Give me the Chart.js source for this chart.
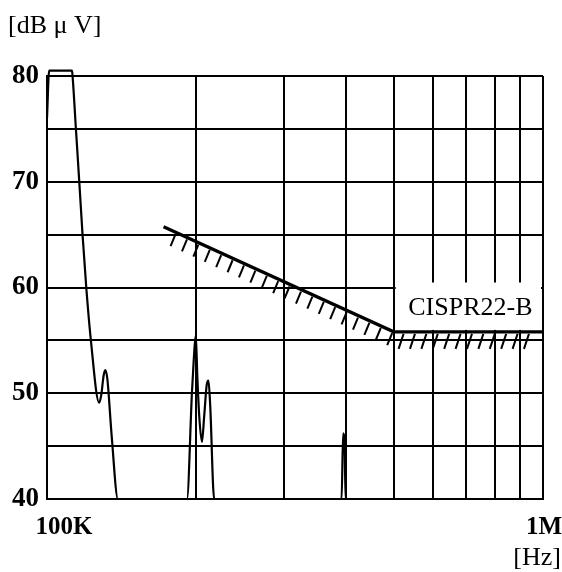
<!DOCTYPE html>
<html>
<head>
<meta charset="utf-8">
<script src="https://cdn.jsdelivr.net/npm/chart.js@4/dist/chart.umd.min.js"></script>
<style>
  html, body { margin: 0; padding: 0; background: #fff; }
  #wrap { width: 562px; height: 572px; }
</style>
</head>
<body>
<div id="wrap"><canvas id="emi"></canvas></div>
<script>
// measured conducted noise (frequency in kHz, level in dBuV)
const traceFreq = [100, 101, 102.5, 112.3, 112.6, 114.4, 116.2, 117.9, 120.0, 122.6, 127.4, 128.6, 130.1, 131.0, 132.3, 135, 139.0,
  191.5, 196.0, 197.6, 199.5, 200.9, 202.7, 205.3, 207.5, 209.9, 211.6, 213.3, 217.3,
  392.6, 395.4, 398.2, 400.0, 1000];
const traceLevel = [76, 80.5, 80.5, 80.5, 80, 74.9, 69.9, 65.1, 60, 55, 49.1, 49.8, 51.7, 52.2, 51.4, 46, 40,
  40, 50.1, 53.1, 55.5, 51.7, 47.9, 45.4, 47.9, 50.8, 51.2, 48.9, 40,
  40, 46.2, 45, 40, 40];

// CISPR22 class B limit
const limitFreq = [171.8, 500, 1000];
const limitLevel = [65.75, 55.8, 55.8];
const limitName = 'CISPR22-B';

// axis grid
const freqTicks = [100, 200, 300, 400, 500, 600, 700, 800, 900, 1000];
const freqLabels = { 100: '100K', 1000: '1M' };
const levelMin = 40, levelMax = 80, levelStep = 5;

const serif = '"Liberation Serif", "DejaVu Serif", serif';

const toXY = (fs, ls) => fs.map((f, i) => ({ x: f, y: ls[i] }));

// white box holding the limit name, drawn over the grid
const labelBox = {
  id: 'labelBox',
  beforeDatasetsDraw(chart) {
    const { ctx, chartArea, scales } = chart;
    const x0 = scales.x.getPixelForValue(limitFreq[1]) + 2;
    const x1 = chartArea.right - 2;
    const y0 = scales.y.getPixelForValue(60) - 5;
    const y1 = scales.y.getPixelForValue(limitLevel[1]) - 2;
    ctx.save();
    ctx.fillStyle = '#fff';
    ctx.fillRect(x0, y0, x1 - x0, y1 - y0);
    ctx.fillStyle = '#000';
    ctx.font = '26px ' + serif;
    ctx.textAlign = 'center';
    ctx.textBaseline = 'middle';
    ctx.fillText(limitName, (x0 + x1) / 2 + 2, (y0 + y1) / 2 + 2);
    ctx.restore();
  }
};

// hatching under the limit line
const hatch = {
  id: 'hatch',
  afterDatasetsDraw(chart) {
    const { ctx, chartArea } = chart;
    const pts = chart.getDatasetMeta(1).data;
    ctx.save();
    ctx.strokeStyle = '#000';
    ctx.lineWidth = 2;
    for (let x = pts[0].x + 12; x < chartArea.right - 6; x += 11.4) {
      let k = 0;
      while (k < pts.length - 2 && x > pts[k + 1].x) k++;
      const a = pts[k], b = pts[k + 1];
      const y = a.y + (b.y - a.y) * (x - a.x) / (b.x - a.x);
      const len = k === 0 ? 12 : 15;
      ctx.beginPath();
      ctx.moveTo(x, y + 2);
      ctx.lineTo(x - 5, y + 2 + len);
      ctx.stroke();
    }
    ctx.restore();
  }
};

// unit captions and the two frequency labels
const captions = {
  id: 'captions',
  afterDraw(chart) {
    const { ctx, scales } = chart;
    ctx.save();
    ctx.fillStyle = '#000';
    ctx.textBaseline = 'middle';
    ctx.font = '26px ' + serif;
    ctx.textAlign = 'left';
    ctx.fillText('[dB μ V]', 8, 26);
    ctx.textAlign = 'right';
    ctx.fillText('[Hz]', 561, 558);
    ctx.font = 'bold 25px ' + serif;
    ctx.textAlign = 'center';
    ctx.fillText(freqLabels[100], scales.x.getPixelForValue(100) + 17, 528);
    ctx.fillText(freqLabels[1000], scales.x.getPixelForValue(1000) + 1, 528);
    ctx.restore();
  }
};

new Chart(document.getElementById('emi'), {
  type: 'line',
  data: {
    datasets: [{
      data: toXY(traceFreq, traceLevel),
      borderColor: '#000',
      borderWidth: 2.2,
      pointRadius: 0,
      cubicInterpolationMode: 'monotone',
      clip: false
    }, {
      data: toXY(limitFreq, limitLevel),
      borderColor: '#000',
      borderWidth: 3.4,
      pointRadius: 0,
      tension: 0
    }]
  },
  options: {
    responsive: true,
    maintainAspectRatio: false,
    animation: false,
    events: [],
    layout: { padding: { top: 76, right: 19, bottom: 73, left: 0 } },
    plugins: { legend: { display: false }, tooltip: { enabled: false } },
    scales: {
      x: {
        type: 'logarithmic',
        min: 100,
        max: 1000,
        afterBuildTicks(scale) {
          scale.ticks = freqTicks.map(v => ({ value: v }));
        },
        afterFit(scale) { scale.height = 0; },
        ticks: { display: false },
        grid: { color: '#000', lineWidth: 2, drawTicks: false },
        border: { color: '#000', width: 2 }
      },
      y: {
        min: levelMin,
        max: levelMax,
        afterFit(scale) { scale.width = 47; },
        ticks: {
          stepSize: levelStep,
          padding: 8,
          color: '#000',
          font: { family: serif, size: 27, weight: 'bold' },
          callback: v => (v % 10 === 0 ? String(v) : '')
        },
        grid: { color: '#000', lineWidth: 2, drawTicks: false },
        border: { color: '#000', width: 2 }
      }
    }
  },
  plugins: [labelBox, hatch, captions]
});
</script>
</body>
</html>
